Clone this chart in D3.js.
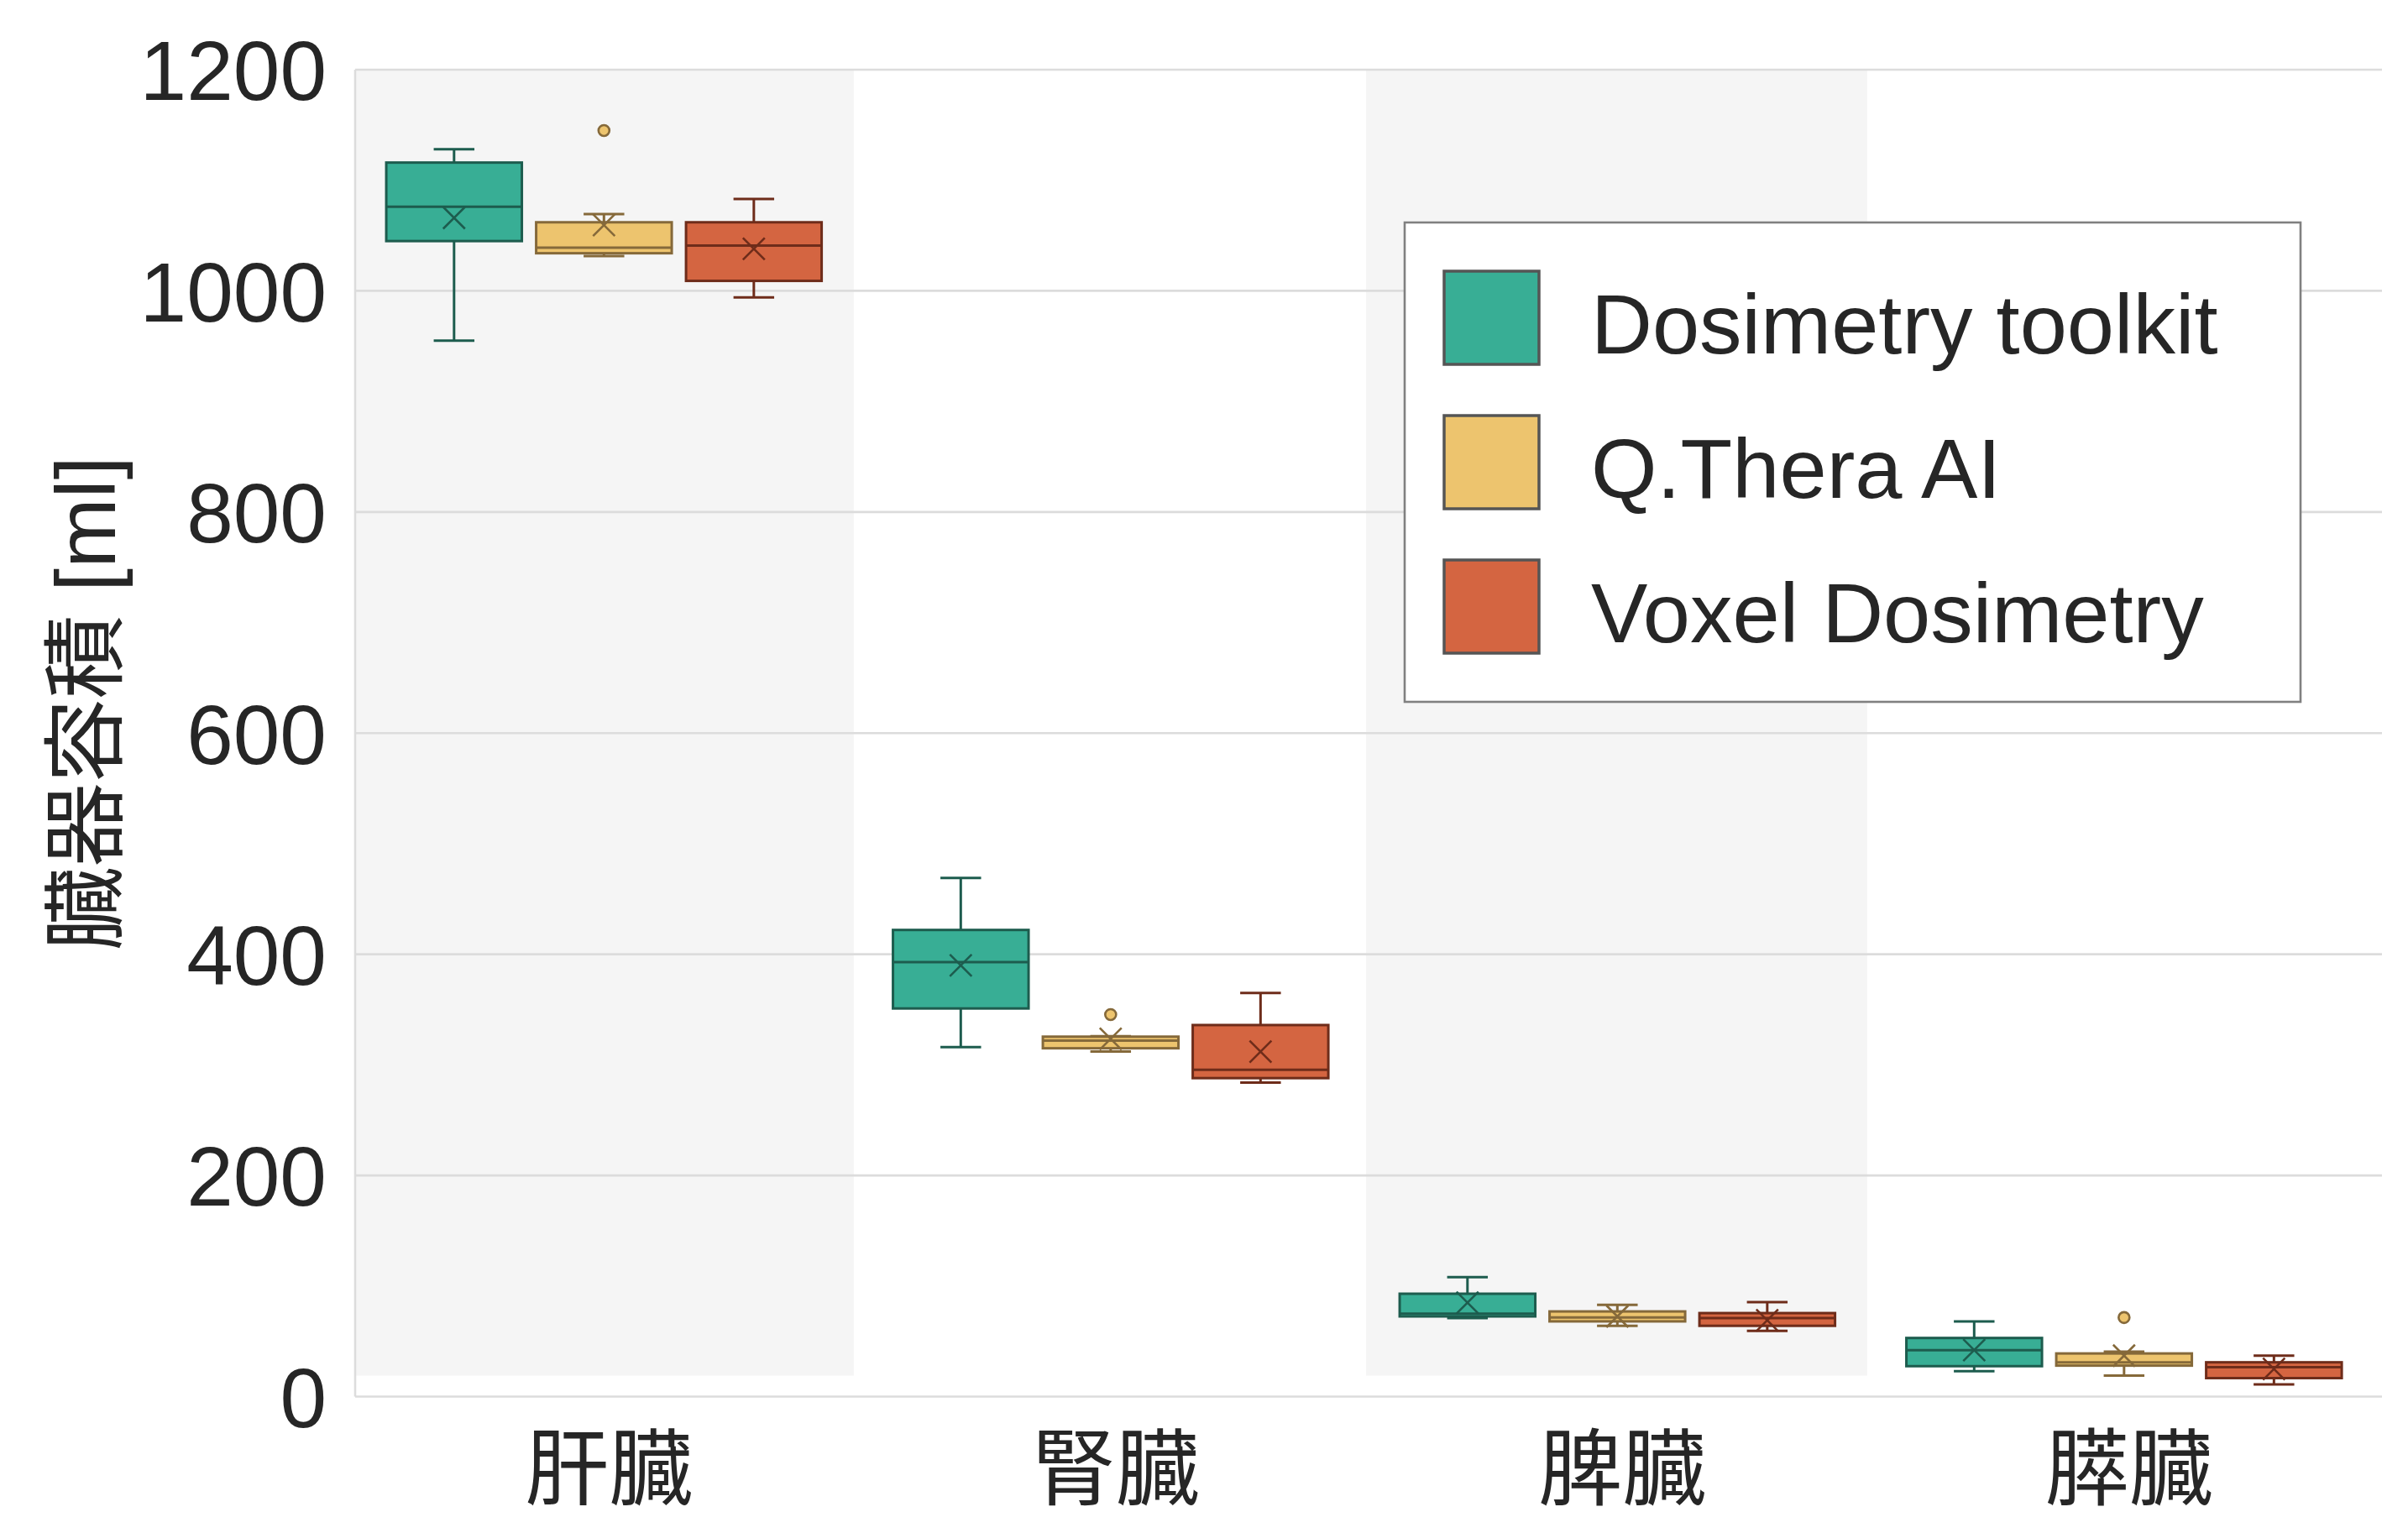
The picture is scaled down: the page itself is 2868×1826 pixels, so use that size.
<!DOCTYPE html>
<html>
<head>
<meta charset="utf-8">
<script src="https://cdn.jsdelivr.net/npm/d3@7"></script>
<style>
  html, body { margin: 0; padding: 0; background: #ffffff; }
  svg { display: block; }
</style>
</head>
<body>
<svg id="chart" width="2868" height="1826"></svg>
<script>
// ---- data ----
const categories = ['肝臓', '腎臓', '脾臓', '膵臓'];
const methods = ['Dosimetry toolkit', 'Q.Thera AI', 'Voxel Dosimetry'];
const yTicks = [0, 200, 400, 600, 800, 1000, 1200];

// per method (rows) and per organ (columns)
const whiskerLow  = [[955, 316, 71, 23], [1031.5, 312, 64, 19], [994, 284, 59.5, 11]];
const q1          = [[1045, 351, 72.5, 27.5], [1034, 315, 68, 28], [1009, 288, 64, 16.7]];
const medians     = [[1076, 393, 75, 42], [1039, 322, 71.5, 31], [1041, 295.5, 71, 26.5]];
const q3          = [[1116, 422, 93, 53], [1062, 325.5, 77, 39], [1062, 336, 75.5, 31]];
const whiskerHigh = [[1128, 469, 108, 68], [1069.5, 326, 83, 40.6], [1083, 365, 85.5, 37]];
const means       = [[1066, 390, 85, 42], [1059.5, 323.5, 72.5, 37], [1038, 312, 69, 25]];
const outliers    = [[[], [], [], []], [[1145], [345.5], [], [71.5]], [[], [], [], []]];

const fillColors = ['#38ae95', '#edc46e', '#d46541'];
const edgeColors = ['#1d5c4e', '#85693a', '#6e2c1a'];

// ---- layout ----
const svg = d3.select('#chart');
const x = d3.scaleLinear().domain([-0.5, 3.5]).range([423, 2837]);
const y = d3.scaleLinear().domain([0, 1200]).range([1663.5, 83]);
const hueOffset = 0.2958;
const groupShift = -0.009;
const boxW = x(0.2676) - x(0);
const capW = boxW * 0.3;
const markSize = 13;

const fontLatin = "'Liberation Sans', Arial, 'DejaVu Sans', sans-serif";
const fontCJK = "'Noto Sans CJK JP', 'Noto Sans CJK SC', sans-serif";

// alternating background bands
svg.append('g').selectAll('rect')
  .data([0, 2])
  .join('rect')
  .attr('x', d => x(Math.max(d - 0.505, -0.5)))
  .attr('width', d => x(d + 0.484) - x(Math.max(d - 0.505, -0.5)))
  .attr('y', y(1200))
  .attr('height', y(19) - y(1200))
  .attr('fill', '#f5f5f5');

// grid lines
svg.append('g').selectAll('line')
  .data(yTicks.filter(t => t > 0))
  .join('line')
  .attr('x1', x(-0.5)).attr('x2', x(3.5))
  .attr('y1', d => y(d)).attr('y2', d => y(d))
  .attr('stroke', '#dcdcdc').attr('stroke-width', 2.6);

// spines (left and bottom)
svg.append('line')
  .attr('x1', x(-0.5)).attr('x2', x(-0.5))
  .attr('y1', y(0)).attr('y2', y(1200))
  .attr('stroke', '#dcdcdc').attr('stroke-width', 2.6);
svg.append('line')
  .attr('x1', x(-0.5)).attr('x2', x(3.5))
  .attr('y1', y(0)).attr('y2', y(0))
  .attr('stroke', '#dcdcdc').attr('stroke-width', 2.6);

// y axis labels
const yAxis = svg.append('g')
  .attr('transform', `translate(${x(-0.5)},0)`)
  .call(d3.axisLeft(y).tickValues(yTicks).tickSize(0).tickPadding(34).tickFormat(d3.format('d')));
yAxis.select('.domain').remove();
yAxis.selectAll('text')
  .attr('dy', '0.358em')
  .attr('fill', '#262626')
  .style('font-family', fontLatin)
  .style('font-size', '100px');

// x axis labels
const xAxis = svg.append('g')
  .attr('transform', `translate(0,${y(0)})`)
  .call(d3.axisBottom(x).tickValues(d3.range(categories.length)).tickSize(0)
    .tickFormat(i => categories[i]));
xAxis.select('.domain').remove();
xAxis.selectAll('text')
  .attr('y', 121.5)
  .attr('dy', 0)
  .attr('fill', '#262626')
  .style('font-family', fontCJK)
  .style('font-size', '100px');

// y axis title
const yTitle = svg.append('text')
  .attr('transform', 'translate(137,838) rotate(-90)')
  .attr('text-anchor', 'middle')
  .attr('fill', '#262626')
  .style('font-size', '100px');
yTitle.append('tspan').style('font-family', fontCJK).text('臓器容積');
yTitle.append('tspan').style('font-family', fontLatin).text(' [ml]');

// boxes
const boxData = [];
methods.forEach((m, j) => {
  categories.forEach((c, i) => {
    boxData.push({ j, i, cx: x(i + (j - 1) * hueOffset + groupShift) });
  });
});

const boxes = svg.append('g').selectAll('g')
  .data(boxData)
  .join('g');

// whiskers
boxes.append('line')
  .attr('x1', d => d.cx).attr('x2', d => d.cx)
  .attr('y1', d => y(q3[d.j][d.i])).attr('y2', d => y(whiskerHigh[d.j][d.i]))
  .attr('stroke', d => edgeColors[d.j]).attr('stroke-width', 3);
boxes.append('line')
  .attr('x1', d => d.cx).attr('x2', d => d.cx)
  .attr('y1', d => y(q1[d.j][d.i])).attr('y2', d => y(whiskerLow[d.j][d.i]))
  .attr('stroke', d => edgeColors[d.j]).attr('stroke-width', 3);
// caps
boxes.append('line')
  .attr('x1', d => d.cx - capW / 2).attr('x2', d => d.cx + capW / 2)
  .attr('y1', d => y(whiskerHigh[d.j][d.i])).attr('y2', d => y(whiskerHigh[d.j][d.i]))
  .attr('stroke', d => edgeColors[d.j]).attr('stroke-width', 3);
boxes.append('line')
  .attr('x1', d => d.cx - capW / 2).attr('x2', d => d.cx + capW / 2)
  .attr('y1', d => y(whiskerLow[d.j][d.i])).attr('y2', d => y(whiskerLow[d.j][d.i]))
  .attr('stroke', d => edgeColors[d.j]).attr('stroke-width', 3);
// box
boxes.append('rect')
  .attr('x', d => d.cx - boxW / 2)
  .attr('width', boxW)
  .attr('y', d => y(q3[d.j][d.i]))
  .attr('height', d => y(q1[d.j][d.i]) - y(q3[d.j][d.i]))
  .attr('fill', d => fillColors[d.j])
  .attr('stroke', d => edgeColors[d.j])
  .attr('stroke-width', 3);
// median
boxes.append('line')
  .attr('x1', d => d.cx - boxW / 2).attr('x2', d => d.cx + boxW / 2)
  .attr('y1', d => y(medians[d.j][d.i])).attr('y2', d => y(medians[d.j][d.i]))
  .attr('stroke', d => edgeColors[d.j]).attr('stroke-width', 3);
// mean marker (x)
boxes.append('path')
  .attr('d', d => {
    const cx = d.cx, cy = y(means[d.j][d.i]), s = markSize;
    return `M${cx - s},${cy - s}L${cx + s},${cy + s}M${cx - s},${cy + s}L${cx + s},${cy - s}`;
  })
  .attr('fill', 'none')
  .attr('stroke', d => edgeColors[d.j])
  .attr('stroke-width', 2.6);
// outliers
boxes.each(function (d) {
  d3.select(this).selectAll('circle')
    .data(outliers[d.j][d.i])
    .join('circle')
    .attr('cx', d.cx)
    .attr('cy', v => y(v))
    .attr('r', 6.5)
    .attr('fill', fillColors[d.j])
    .attr('stroke', edgeColors[d.j])
    .attr('stroke-width', 2.6);
});

// legend
const legend = svg.append('g');
legend.append('rect')
  .attr('x', 1673).attr('y', 265)
  .attr('width', 1067).attr('height', 571)
  .attr('fill', '#ffffff')
  .attr('stroke', '#808080')
  .attr('stroke-width', 2.6);
const rowY = d3.scaleLinear().domain([0, 2]).range([421, 765]);
const items = legend.selectAll('g.item')
  .data(methods)
  .join('g').attr('class', 'item');
items.append('rect')
  .attr('x', 1720)
  .attr('y', (d, j) => rowY(j) - 42 - 56)
  .attr('width', 113).attr('height', 111)
  .attr('fill', (d, j) => fillColors[j])
  .attr('stroke', '#555555')
  .attr('stroke-width', 3.5);
items.append('text')
  .attr('x', 1895)
  .attr('y', (d, j) => rowY(j))
  .attr('fill', '#262626')
  .style('font-family', fontLatin)
  .style('font-size', '101px')
  .text(d => d);
</script>
</body>
</html>
